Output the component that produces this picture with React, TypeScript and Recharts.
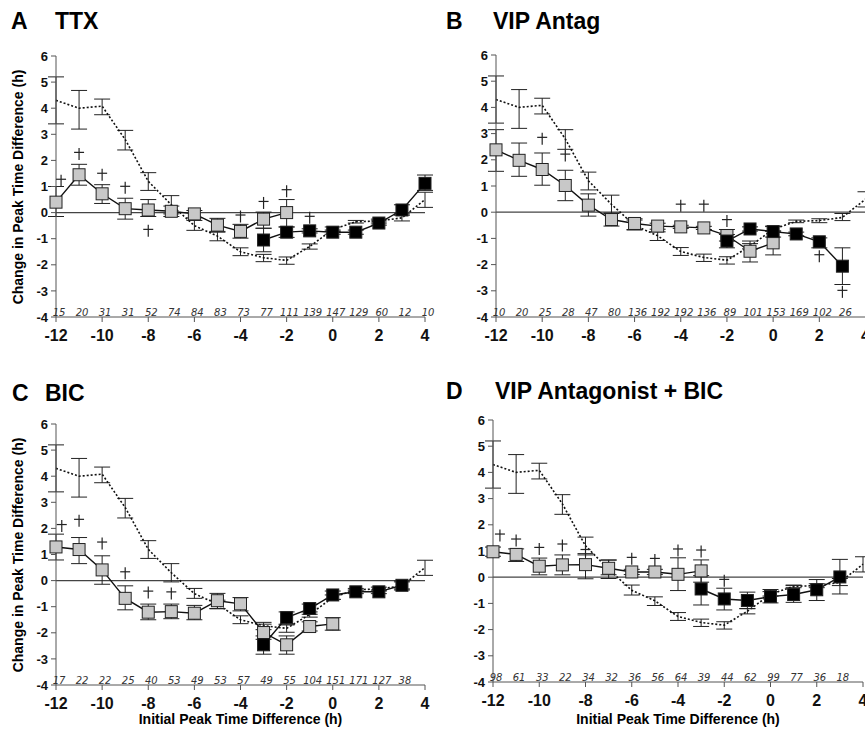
import React from 'react';
import { ComposedChart, Line, Scatter, XAxis, YAxis, ReferenceLine, ErrorBar } from 'recharts';

const X_TICKS = [-12, -10, -8, -6, -4, -2, 0, 2, 4];
const Y_TICKS = [-4, -3, -2, -1, 0, 1, 2, 3, 4, 5, 6];

// control curve (dotted), identical in every panel
const CTRL_X = [-12, -11, -10, -9, -8, -7, -6, -5, -4, -3, -2, -1, 0, 1, 2, 3, 4];
const CTRL_Y = [4.3, 4.0, 4.08, 2.8, 1.2, 0.3, -0.5, -0.9, -1.5, -1.73, -1.83, -1.3, -0.65, -0.35, -0.32, -0.2, 0.5];
const CTRL_LO = [3.4, 3.2, 3.75, 2.4, 0.85, -0.05, -0.68, -1.08, -1.65, -1.88, -1.98, -1.4, -0.72, -0.4, -0.4, -0.32, 0.2];
const CTRL_HI = [5.2, 4.68, 4.35, 3.15, 1.53, 0.65, -0.3, -0.75, -1.35, -1.6, -1.7, -1.2, -0.55, -0.3, -0.25, -0.05, 0.78];

// A: TTX
const TTX_GRAY_X = [-12, -11, -10, -9, -8, -7, -6, -5, -4, -3, -2];
const TTX_GRAY_Y = [0.4, 1.45, 0.72, 0.15, 0.1, 0.05, -0.05, -0.48, -0.72, -0.25, 0.0];
const TTX_GRAY_LO = [-0.15, 1.05, 0.35, -0.25, -0.15, -0.15, -0.2, -0.72, -0.98, -0.6, -0.55];
const TTX_GRAY_HI = [1.0, 1.85, 1.07, 0.55, 0.5, 0.25, 0.08, -0.22, -0.45, 0.02, 0.5];
const TTX_BLACK_X = [-3, -2, -1, 0, 1, 2, 3, 4];
const TTX_BLACK_Y = [-1.05, -0.75, -0.7, -0.75, -0.75, -0.4, 0.1, 1.12];
const TTX_BLACK_LO = [-1.5, -0.95, -0.78, -0.83, -0.83, -0.48, -0.1, 0.85];
const TTX_BLACK_HI = [-0.6, -0.55, -0.62, -0.67, -0.67, -0.32, 0.3, 1.44];
const TTX_DAG_X = [-11.78, -11, -10, -9, -8, -4, -3, -2, -1];
const TTX_DAG_Y = [1.22, 2.25, 1.45, 0.95, -0.7, -0.15, 0.37, 0.82, -0.2];
const TTX_N = [15, 20, 31, 31, 52, 74, 84, 83, 73, 77, 111, 139, 147, 129, 60, 12, 10];

// B: VIP Antag
const VIP_GRAY_X = [-12, -11, -10, -9, -8, -7, -6, -5, -4, -3, -2, -1, 0];
const VIP_GRAY_Y = [2.38, 1.98, 1.63, 1.02, 0.27, -0.28, -0.43, -0.53, -0.56, -0.6, -0.89, -1.49, -1.17];
const VIP_GRAY_LO = [1.56, 1.37, 1.03, 0.44, -0.15, -0.53, -0.66, -0.65, -0.62, -0.66, -1.1, -1.9, -1.63];
const VIP_GRAY_HI = [3.15, 2.64, 2.26, 1.6, 0.7, -0.03, -0.25, -0.42, -0.5, -0.54, -0.66, -1.1, -0.72];
const VIP_BLACK_X = [-2, -1, 0, 1, 2, 3];
const VIP_BLACK_Y = [-1.1, -0.64, -0.74, -0.83, -1.13, -2.06];
const VIP_BLACK_LO = [-1.36, -0.72, -0.95, -0.9, -1.36, -2.76];
const VIP_BLACK_HI = [-0.85, -0.56, -0.53, -0.76, -0.98, -1.36];
const VIP_DAG_X = [-10, -9, -4, -3, -2, 2, 3];
const VIP_DAG_Y = [2.8, 2.16, 0.25, 0.25, -0.34, -1.68, -3.04];
const VIP_N = [10, 20, 25, 28, 47, 80, 136, 192, 192, 136, 89, 101, 153, 169, 102, 26];

// C: BIC
const BIC_GRAY_X = [-12, -11, -10, -9, -8, -7, -6, -5, -4, -3, -2, -1, 0];
const BIC_GRAY_Y = [1.29, 1.19, 0.41, -0.68, -1.21, -1.19, -1.25, -0.77, -0.89, -1.99, -2.46, -1.76, -1.66];
const BIC_GRAY_LO = [0.79, 0.65, -0.14, -1.12, -1.5, -1.46, -1.5, -1.07, -1.16, -2.25, -2.82, -1.93, -1.9];
const BIC_GRAY_HI = [1.78, 1.65, 0.95, -0.2, -0.9, -0.9, -0.95, -0.49, -0.65, -1.67, -2.12, -1.58, -1.42];
const BIC_BLACK_X = [-3, -2, -1, 0, 1, 2, 3];
const BIC_BLACK_Y = [-2.46, -1.42, -1.07, -0.55, -0.43, -0.43, -0.18];
const BIC_BLACK_LO = [-2.82, -1.67, -1.29, -0.72, -0.5, -0.5, -0.36];
const BIC_BLACK_HI = [-2.12, -1.2, -0.9, -0.4, -0.36, -0.36, -0.01];
const BIC_DAG_X = [-11.75, -11, -10, -9, -8, -7];
const BIC_DAG_Y = [2.09, 2.29, 1.42, 0.28, -0.46, -0.49];
const BIC_N = [17, 22, 22, 25, 40, 53, 49, 53, 57, 49, 55, 104, 151, 171, 127, 38];

// D: VIP Antagonist + BIC
const VB_GRAY_X = [-12, -11, -10, -9, -8, -7, -6, -5, -4, -3];
const VB_GRAY_Y = [0.97, 0.87, 0.42, 0.47, 0.48, 0.34, 0.2, 0.2, 0.11, 0.24];
const VB_GRAY_LO = [0.8, 0.6, 0.09, 0.09, -0.06, 0.09, 0.1, 0.1, -0.51, -0.19];
const VB_GRAY_HI = [1.15, 1.08, 0.73, 0.85, 0.9, 0.66, 0.3, 0.3, 0.74, 0.66];
const VB_BLACK_X = [-3, -2, -1, 0, 1, 2, 3];
const VB_BLACK_Y = [-0.45, -0.83, -0.89, -0.74, -0.66, -0.48, 0.01];
const VB_BLACK_LO = [-1.06, -1.25, -1.2, -0.98, -0.96, -0.89, -0.64];
const VB_BLACK_HI = [0.06, -0.42, -0.57, -0.47, -0.32, -0.09, 0.68];
const VB_DAG_X = [-11.7, -11, -10, -9, -8, -6, -5, -4, -3, -2];
const VB_DAG_Y = [1.59, 1.4, 1.08, 1.21, 1.0, 0.7, 0.66, 1.02, 0.98, -0.14];
const VB_N = [98, 61, 33, 22, 34, 32, 36, 56, 64, 39, 44, 62, 99, 77, 36, 18];

const FONT = '"Liberation Sans", Arial, Helvetica, sans-serif';

type Pt = { x: number; y: number; err?: [number, number]; n?: number };

function withErr(xs: number[], ys: number[], lo: number[], hi: number[]): Pt[] {
  return xs.map((x, i) => ({ x, y: ys[i], err: [ys[i] - lo[i], hi[i] - ys[i]] as [number, number] }));
}

function pts(xs: number[], ys: number[]): Pt[] {
  return xs.map((x, i) => ({ x, y: ys[i] }));
}

function nLabels(ns: number[]): Pt[] {
  return ns.map((n, i) => ({ x: -12 + i, y: -4, n }));
}

const ctrl = withErr(CTRL_X, CTRL_Y, CTRL_LO, CTRL_HI);

const square = (fill: string) => (p: any) => (
  <rect key={p.index} x={p.cx - 6} y={p.cy - 6} width={12} height={12} fill={fill} stroke="#222" strokeWidth={1} />
);

const Dagger = (p: any) => (
  <g stroke="#222" strokeWidth={1.2}>
    <line x1={p.cx} y1={p.cy - 6} x2={p.cx} y2={p.cy + 6} />
    <line x1={p.cx - 5} y1={p.cy - 1.5} x2={p.cx + 5} y2={p.cy - 1.5} />
  </g>
);

const NText = (p: any) => (
  <text
    x={p.cx + 3}
    y={p.cy - 1.5}
    textAnchor="middle"
    fontSize={10}
    fontStyle="italic"
    fontFamily='"DejaVu Sans", Verdana, sans-serif'
    fill="#333"
  >
    {p.payload.n}
  </text>
);

interface PanelCfg {
  letter: string;
  title: string;
  letterX: number;
  titleX: number;
  titleTop: number;
  plot: { l: number; t: number; r: number; b: number };
  gray: Pt[];
  black: Pt[];
  daggers: Pt[];
  n: Pt[];
  yLabel: boolean;
  xLabel: boolean;
}

const panels: PanelCfg[] = [
  {
    letter: 'A', title: 'TTX', letterX: 11, titleX: 55, titleTop: 10,
    plot: { l: 56, t: 56, r: 425, b: 317 },
    gray: withErr(TTX_GRAY_X, TTX_GRAY_Y, TTX_GRAY_LO, TTX_GRAY_HI),
    black: withErr(TTX_BLACK_X, TTX_BLACK_Y, TTX_BLACK_LO, TTX_BLACK_HI),
    daggers: pts(TTX_DAG_X, TTX_DAG_Y),
    n: nLabels(TTX_N),
    yLabel: true, xLabel: false,
  },
  {
    letter: 'B', title: 'VIP Antag', letterX: 446, titleX: 493, titleTop: 10,
    plot: { l: 496, t: 55, r: 865.5, b: 317 },
    gray: withErr(VIP_GRAY_X, VIP_GRAY_Y, VIP_GRAY_LO, VIP_GRAY_HI),
    black: withErr(VIP_BLACK_X, VIP_BLACK_Y, VIP_BLACK_LO, VIP_BLACK_HI),
    daggers: pts(VIP_DAG_X, VIP_DAG_Y),
    n: nLabels(VIP_N),
    yLabel: false, xLabel: false,
  },
  {
    letter: 'C', title: 'BIC', letterX: 12, titleX: 45, titleTop: 382,
    plot: { l: 56, t: 424, r: 425, b: 685 },
    gray: withErr(BIC_GRAY_X, BIC_GRAY_Y, BIC_GRAY_LO, BIC_GRAY_HI),
    black: withErr(BIC_BLACK_X, BIC_BLACK_Y, BIC_BLACK_LO, BIC_BLACK_HI),
    daggers: pts(BIC_DAG_X, BIC_DAG_Y),
    n: nLabels(BIC_N),
    yLabel: true, xLabel: true,
  },
  {
    letter: 'D', title: 'VIP Antagonist + BIC', letterX: 446, titleX: 495, titleTop: 380,
    plot: { l: 493, t: 420, r: 863, b: 682 },
    gray: withErr(VB_GRAY_X, VB_GRAY_Y, VB_GRAY_LO, VB_GRAY_HI),
    black: withErr(VB_BLACK_X, VB_BLACK_Y, VB_BLACK_LO, VB_BLACK_HI),
    daggers: pts(VB_DAG_X, VB_DAG_Y),
    n: nLabels(VB_N),
    yLabel: false, xLabel: true,
  },
];

const YW = 56;
const MT = 30;
const MR = 10;
const XH = 40;

function Panel({ cfg }: { cfg: PanelCfg }) {
  const { plot } = cfg;
  const width = plot.r - plot.l + YW + MR;
  const height = plot.b - plot.t + MT + XH;
  const titleStyle: React.CSSProperties = {
    position: 'absolute', top: cfg.titleTop, fontFamily: FONT, fontWeight: 700,
    fontSize: 23, lineHeight: 1, whiteSpace: 'nowrap', color: '#000',
  };
  return (
    <>
      <div style={{ ...titleStyle, left: cfg.letterX }}>{cfg.letter}</div>
      <div style={{ ...titleStyle, left: cfg.titleX }}>{cfg.title}</div>
      {cfg.yLabel && (
        <div
          style={{
            position: 'absolute', left: 18, top: (plot.t + plot.b) / 2, width: 0, height: 0,
          }}
        >
          <div
            style={{
              position: 'absolute', left: 0, top: 0, transform: 'translate(-50%, -50%) rotate(-90deg)',
              fontFamily: FONT, fontWeight: 700, fontSize: 14, whiteSpace: 'nowrap', lineHeight: 1,
            }}
          >
            Change in Peak Time Difference (h)
          </div>
        </div>
      )}
      {cfg.xLabel && (
        <div
          style={{
            position: 'absolute', left: (plot.l + plot.r) / 2, top: 719, width: 0, height: 0,
          }}
        >
          <div
            style={{
              position: 'absolute', left: 0, top: 0, transform: 'translate(-50%, -50%)',
              fontFamily: FONT, fontWeight: 700, fontSize: 14, whiteSpace: 'nowrap', lineHeight: 1,
            }}
          >
            Initial Peak Time Difference (h)
          </div>
        </div>
      )}
      <div style={{ position: 'absolute', left: plot.l - YW, top: plot.t - MT }}>
        <ComposedChart width={width} height={height} margin={{ top: MT, right: MR, bottom: 0, left: 0 }}>
          <XAxis
            type="number"
            dataKey="x"
            domain={[-12, 4]}
            ticks={X_TICKS}
            interval={0}
            height={XH}
            stroke="#555"
            tickSize={5}
            tickMargin={8}
            tick={{ fill: '#111', fontSize: 16, fontWeight: 700, fontFamily: FONT }}
          />
          <YAxis
            type="number"
            dataKey="y"
            domain={[-4, 6]}
            ticks={Y_TICKS}
            interval={0}
            width={YW}
            stroke="#555"
            tickSize={5}
            tickMargin={3}
            tick={{ fill: '#111', fontSize: 13, fontWeight: 700, fontFamily: FONT }}
          />
          <ReferenceLine y={0} stroke="#444" strokeWidth={1.2} />
          <Line
            data={ctrl}
            dataKey="y"
            stroke="#111"
            strokeWidth={1.6}
            strokeDasharray="2 2"
            dot={false}
            activeDot={false}
            isAnimationActive={false}
          >
            <ErrorBar dataKey="err" width={8} stroke="#222" strokeWidth={1} direction="y" isAnimationActive={false} />
          </Line>
          <Line
            data={cfg.gray}
            dataKey="y"
            stroke="#111"
            strokeWidth={1.4}
            dot={square('#c8c8c8')}
            activeDot={false}
            isAnimationActive={false}
          >
            <ErrorBar dataKey="err" width={8} stroke="#222" strokeWidth={1} direction="y" isAnimationActive={false} />
          </Line>
          <Line
            data={cfg.black}
            dataKey="y"
            stroke="#111"
            strokeWidth={1.4}
            dot={square('#000')}
            activeDot={false}
            isAnimationActive={false}
          >
            <ErrorBar dataKey="err" width={8} stroke="#222" strokeWidth={1} direction="y" isAnimationActive={false} />
          </Line>
          <Scatter data={cfg.daggers} dataKey="y" shape={Dagger} isAnimationActive={false} />
          <Scatter data={cfg.n} dataKey="y" shape={NText} isAnimationActive={false} />
        </ComposedChart>
      </div>
    </>
  );
}

export default function App() {
  return (
    <div
      style={{
        position: 'absolute', left: 0, top: 0, width: 865, height: 734, overflow: 'hidden', background: '#fff',
      }}
    >
      {panels.map((p) => (
        <Panel key={p.letter} cfg={p} />
      ))}
    </div>
  );
}
